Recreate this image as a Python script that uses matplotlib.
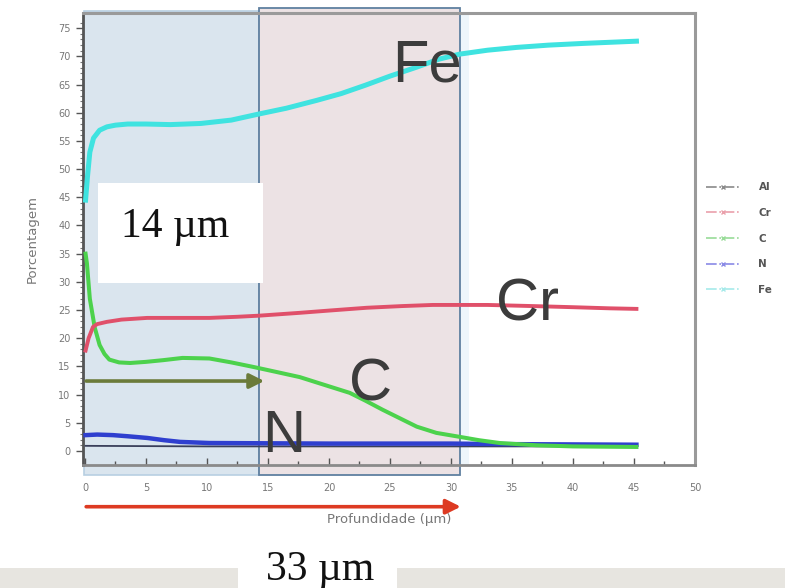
import numpy as np
import matplotlib.pyplot as plt
from matplotlib.lines import Line2D
from matplotlib.patches import Rectangle

# ----------------------------------------------------------------------------
# data (depth in um, content in %)
depth_fe = [0.05, 0.2, 0.4, 0.7, 1.2, 1.8, 2.5, 3.5, 5, 7, 9.5, 12, 14.3, 16.5,
            19, 21, 23, 25, 27.2, 29, 30.7, 33, 35.4, 38, 40.8, 43, 45.2]
fe = [44.5, 48.5, 53.0, 55.5, 56.9, 57.5, 57.8, 58.0, 58.0, 57.9, 58.1, 58.7,
      59.8, 60.8, 62.2, 63.4, 64.9, 66.5, 68.1, 69.5, 70.4, 71.1, 71.6, 72.0,
      72.3, 72.5, 72.7]

depth_cr = [0.05, 0.3, 0.66, 1.0, 1.8, 3, 5.1, 7.5, 10.2, 12.5, 14.3, 17.6, 20,
            23.1, 26, 28.5, 30.7, 33, 36.7, 40, 43, 45.2]
cr = [17.8, 20.0, 22.0, 22.5, 22.9, 23.3, 23.6, 23.6, 23.6, 23.8, 24.0, 24.5,
      24.9, 25.4, 25.7, 25.9, 25.9, 25.9, 25.7, 25.5, 25.3, 25.2]

depth_c = [0.05, 0.16, 0.4, 0.8, 1.2, 1.6, 2.0, 2.8, 3.7, 5, 6.4, 8, 10.2, 12,
           13.8, 15.5, 17.6, 19.5, 21.7, 23, 24.4, 25.8, 27.2, 28.8, 30.7,
           32.3, 34, 37, 40, 45.2]
c = [35.0, 33.3, 27.0, 21.9, 18.8, 17.2, 16.2, 15.7, 15.6, 15.8, 16.1, 16.5,
     16.4, 15.7, 14.9, 14.1, 13.1, 11.8, 10.3, 8.9, 7.3, 5.8, 4.3, 3.2, 2.5,
     1.9, 1.4, 1.0, 0.8, 0.7]

depth_n = [0.05, 1, 2.3, 3.5, 5.1, 6.5, 7.8, 10.2, 15, 20, 25, 30, 35, 40, 45.2]
n = [2.8, 2.9, 2.8, 2.6, 2.3, 1.9, 1.6, 1.4, 1.35, 1.3, 1.3, 1.3, 1.2, 1.15, 1.1]

depth_al = [0.05, 10, 20, 30, 40, 45.2]
al = [0.9, 0.8, 0.8, 0.8, 0.8, 0.8]

legend_names = ['Al', 'Cr', 'C', 'N', 'Fe']

# zones (um)
zone1 = 14.3
zone2 = 30.7

# ----------------------------------------------------------------------------
fig = plt.figure(figsize=(7.85, 5.88), dpi=100)
ax = fig.add_axes([83/785, 1-465/588, (695-83)/785, (465-13)/588])

# shaded zones
ax.add_patch(Rectangle((-0.1, -4.3), zone1+0.1, 82.3, facecolor='#dae5ee',
                       edgecolor='#b8cfe2', lw=1.2, zorder=0, clip_on=False))
ax.add_patch(Rectangle((zone1, -4.3), zone2-zone1, 82.8, facecolor='#ece2e4',
                       edgecolor='#5f80a0', lw=1.3, zorder=0.5, clip_on=False))
ax.axvspan(zone2+0.1, zone2+0.8, color='#eef6fb', zorder=0, lw=0)

# profiles
ax.plot(depth_al, al, color='#3a3f5a', lw=1.3, zorder=3)
ax.plot(depth_n, n, color='#2f3fcf', lw=3.2, zorder=3)
ax.plot(depth_c, c, color='#4cd24c', lw=2.9, zorder=3)
ax.plot(depth_cr, cr, color='#e0506a', lw=2.8, zorder=3)
ax.plot(depth_fe, fe, color='#3fe3e0', lw=3.6, zorder=3)

ax.set_xlim(-0.16, 50)
ax.set_ylim(-2.5, 77.7)
ax.set_xticks(np.arange(0, 51, 5))
ax.set_yticks(np.arange(0, 76, 5))
ax.set_xticks(np.arange(0, 50, 2.5), minor=True)
ax.set_yticks(np.arange(0, 77, 1), minor=True)
ax.tick_params(axis='x', which='major', direction='in', length=5, width=1,
               color='#555555', labelsize=7, labelcolor='#777777', pad=13)
ax.tick_params(axis='x', which='minor', direction='in', length=3, width=1,
               color='#555555')
ax.tick_params(axis='y', which='major', direction='out', length=5, width=1,
               color='#555555', labelsize=7, labelcolor='#777777', pad=4)
ax.tick_params(axis='y', which='minor', direction='out', length=2, width=0.8,
               color='#777777')
for side in ['top', 'right']:
    ax.spines[side].set_color('#9a9a9a')
    ax.spines[side].set_linewidth(2.2)
ax.spines['left'].set_color('#555555')
ax.spines['left'].set_linewidth(2.0)
ax.spines['bottom'].set_color('#8a8a8a')
ax.spines['bottom'].set_linewidth(2.0)
ax.set_facecolor('white')

ax.set_xlabel('Profundidade (µm)', fontsize=9.5, color='#777777', labelpad=14)
ax.set_ylabel('Porcentagem', fontsize=9.5, color='#777777', labelpad=14)

# legend (outside, right)
handles = [Line2D([], [], color=col, lw=1.2, ls='-.', marker='x', markersize=3)
           for col in ['#8a8a8a', '#eaa0ab', '#98dc98', '#8a8ae6', '#a6eaea']]
leg = ax.legend(handles, legend_names, loc='upper left', frameon=False,
                bbox_to_anchor=(697/785, 1-173/588), bbox_transform=fig.transFigure,
                fontsize=7.5, labelspacing=1.5, handlelength=3.2,
                handletextpad=1.8, markerfirst=True)
for t in leg.get_texts():
    t.set_color('#555555')
    t.set_fontweight('bold')

# element labels
lab = dict(fontsize=43, color='#3c3c3c', family='Liberation Sans', zorder=6,
           ha='center', va='baseline')
ax.text(28.0, 65.6, 'Fe', **lab)
ax.text(36.3, 23.1, 'Cr', **lab)
ax.text(23.4, 9.0, 'C', **lab)
ax.text(16.3, -0.2, 'N', **lab)

# arrows
ax.annotate('', xy=(14.7, 12.4), xytext=(0.1, 12.4), annotation_clip=False,
            arrowprops=dict(arrowstyle='-|>', mutation_scale=22, lw=2.6,
                            color='#6b7b3a', shrinkA=0, shrinkB=0), zorder=6)
ax.annotate('', xy=(30.8, -9.9), xytext=(0.1, -9.9), annotation_clip=False,
            arrowprops=dict(arrowstyle='-|>', mutation_scale=22, lw=2.6,
                            color='#dd3a22', shrinkA=0, shrinkB=0), zorder=6)

# boxes with thickness text
fig.patches.append(Rectangle((0, 0), 1, 20/588, transform=fig.transFigure,
                             facecolor='#e7e5e0', edgecolor='none', zorder=1))
fig.patches.append(Rectangle((98/785, 1-283/588), 165/785, 100/588,
                             transform=fig.transFigure, facecolor='white',
                             edgecolor='none', zorder=5))
fig.patches.append(Rectangle((238/785, 0), 159/785, 61/588,
                             transform=fig.transFigure, facecolor='white',
                             edgecolor='none', zorder=5))
fig.text(175/785, 1-237/588, '14 µm', fontsize=30, family='Liberation Serif',
         color='#111111', ha='center', va='baseline', zorder=7)
fig.text(320/785, 1-580/588, '33 µm', fontsize=30, family='Liberation Serif',
         color='#111111', ha='center', va='baseline', zorder=7)

fig.savefig('out.png', dpi=100)
